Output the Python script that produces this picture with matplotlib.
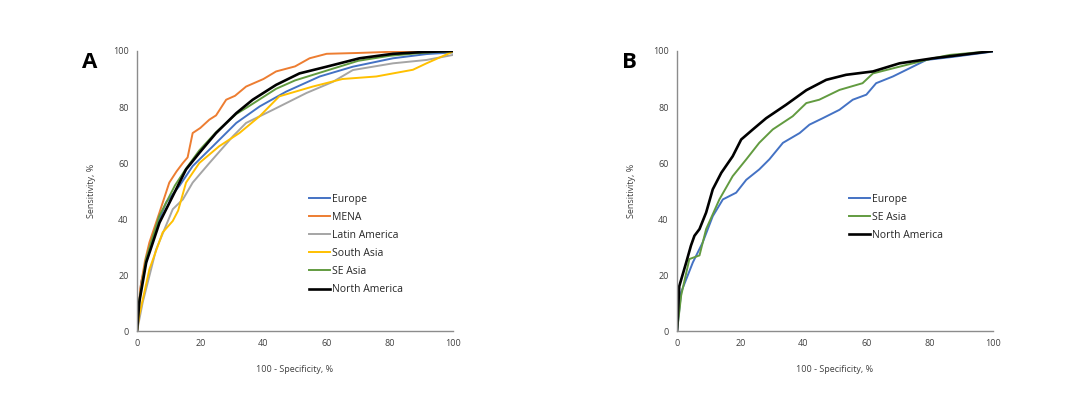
import numpy as np
import matplotlib.pyplot as plt

plt.rcParams['font.family'] = ['Open Sans', 'DejaVu Sans']

# ---- panel A: ROC points (x = 100 - specificity, y = sensitivity) ----
eu_a_x = [0, 1.3, 5, 9.2, 13.4, 17.6, 24, 31.4, 38.8, 47.2, 57.8, 68.3, 81, 91.6, 100]
eu_a_y = [0, 17.4, 34, 45.9, 51.8, 58.9, 66, 74.3, 80.2, 85.5, 90.9, 94.4, 97.4, 98.9, 99.5]

mena_x = [0, 1, 2.5, 3.9, 7, 10.2, 12.5, 14.5, 16, 17.6, 20, 22.9, 25, 28.2, 31, 34.5, 40, 44, 50, 54.6, 60, 70, 80, 90, 100]
mena_y = [0, 15, 25, 31.6, 42, 53, 57, 60, 62, 70.7, 72.5, 75.5, 77, 82.6, 84, 87.3, 90, 92.7, 94.5, 97.4, 99, 99.3, 99.7, 100, 100]

lat_x = [0, 1.8, 6, 11.3, 14.5, 17.6, 22.9, 30.3, 34.5, 43, 53.6, 62, 68.3, 81, 91.6, 100]
lat_y = [0, 10.3, 29, 43.5, 47, 53, 60, 69.5, 74.3, 79, 85, 89, 93.2, 95.6, 96.8, 98.6]

sa_x = [0, 0.7, 3.9, 8.1, 11.3, 13, 15.5, 19.7, 26, 32.4, 38.8, 45, 55.6, 65, 75.7, 81, 87.3, 91.6, 100]
sa_y = [0, 5.6, 22, 35.2, 39.3, 43, 53, 60, 66, 70.7, 76.7, 83.8, 87.3, 90, 90.9, 92, 93.3, 95.6, 99.8]

se_a_x = [0, 0.7, 2.9, 7, 12, 15.5, 19.7, 25, 31.4, 35, 44, 50, 60, 70, 80, 90, 100]
se_a_y = [0, 11, 26, 41, 52, 58, 64.5, 71, 77.5, 80, 86.5, 89.5, 93, 96.5, 98.3, 99.3, 100]

na_a_x = [0, 0.7, 2.9, 7.1, 11.3, 15.5, 19.7, 25, 31.4, 36.6, 44, 51.4, 60, 70.4, 81, 90, 100]
na_a_y = [0, 10.3, 24.5, 38.7, 48.2, 57.7, 63.6, 70.7, 77.8, 82.6, 87.9, 92, 94.4, 97.4, 99, 99.6, 100]

# ---- panel B ----
eu_b_x = [0, 1.3, 5, 8.1, 11.3, 14.5, 18.7, 21.9, 26, 29.2, 33.5, 38.8, 41.9, 46.1, 51.4, 55.6, 59.9, 63, 68.3, 74.6, 78.9, 87.3, 100]
eu_b_y = [0, 13.9, 24.5, 31.6, 41, 47, 49.4, 54, 57.7, 61.3, 67.2, 70.7, 73.7, 76, 79, 82.6, 84.4, 88.5, 90.9, 94.4, 96.8, 97.9, 99.8]

se_b_x = [0, 1.3, 3.9, 7.1, 9.2, 13.4, 17.6, 21.9, 26, 30.3, 36.6, 40.9, 45, 51.4, 58.7, 62, 70.4, 81, 86.3, 100]
se_b_y = [0, 12.7, 25.7, 27, 36.4, 47, 55.3, 61.3, 67.2, 72, 76.7, 81.4, 82.6, 86.1, 88.5, 92, 94.4, 97.4, 98.6, 100]

na_b_x = [0, 0.7, 2.9, 4.4, 5.5, 7.1, 9.2, 11.3, 14, 17.6, 20.3, 24, 28.2, 34.5, 40.9, 47.2, 53.5, 62, 70.4, 81, 100]
na_b_y = [0, 16, 24.5, 30.5, 34, 36.4, 42.3, 50.6, 56.5, 62.4, 68.4, 72, 76, 80.8, 86, 89.7, 91.5, 92.7, 95.6, 97.4, 100]

ticks = [0, 20, 40, 60, 80, 100]

blue = '#4472C4'
orange = '#ED7D31'
gray = '#A5A5A5'
yellow = '#FFC000'
green = '#629B40'
black = '#000000'

fig = plt.figure(figsize=(10.8, 4.17), dpi=100)
axA = fig.add_axes([0.1269, 0.2062, 0.2926, 0.6715])
axB = fig.add_axes([0.6269, 0.2062, 0.2926, 0.6715])

axA.plot(eu_a_x, eu_a_y, color=blue, lw=1.4, label='Europe')
axA.plot(mena_x, mena_y, color=orange, lw=1.4, label='MENA')
axA.plot(lat_x, lat_y, color=gray, lw=1.4, label='Latin America')
axA.plot(sa_x, sa_y, color=yellow, lw=1.4, label='South Asia')
axA.plot(se_a_x, se_a_y, color=green, lw=1.4, label='SE Asia')
axA.plot(na_a_x, na_a_y, color=black, lw=1.9, label='North America')

axB.plot(eu_b_x, eu_b_y, color=blue, lw=1.4, label='Europe')
axB.plot(se_b_x, se_b_y, color=green, lw=1.4, label='SE Asia')
axB.plot(na_b_x, na_b_y, color=black, lw=1.9, label='North America')

for ax, letter in [(axA, 'A'), (axB, 'B')]:
    ax.set_xlim(0, 100)
    ax.set_ylim(0, 100)
    ax.set_xticks(ticks)
    ax.set_yticks(ticks)
    ax.tick_params(length=0, labelsize=6.5, colors='#404040', pad=6)
    for s in ['top', 'right']:
        ax.spines[s].set_visible(False)
    for s in ['left', 'bottom']:
        ax.spines[s].set_color('#8c8c8c')
        ax.spines[s].set_linewidth(1.0)
    ax.set_xlabel('100 - Specificity, %', fontsize=6.5, color='#404040', labelpad=12)
    ax.set_ylabel('Sensitivity, %', fontsize=6.5, color='#404040', labelpad=12)
    ax.text(-0.15, 0.96, letter, transform=ax.transAxes, fontsize=16,
            fontweight='bold', ha='center', va='center')
    ax.legend(loc='upper left', bbox_to_anchor=(0.545, 0.49), frameon=False,
              fontsize=7.5, handlelength=2.0, handletextpad=0.2,
              labelspacing=0.68, borderaxespad=0, borderpad=0,
              labelcolor='#262626')

fig.savefig('out.png', dpi=100)
